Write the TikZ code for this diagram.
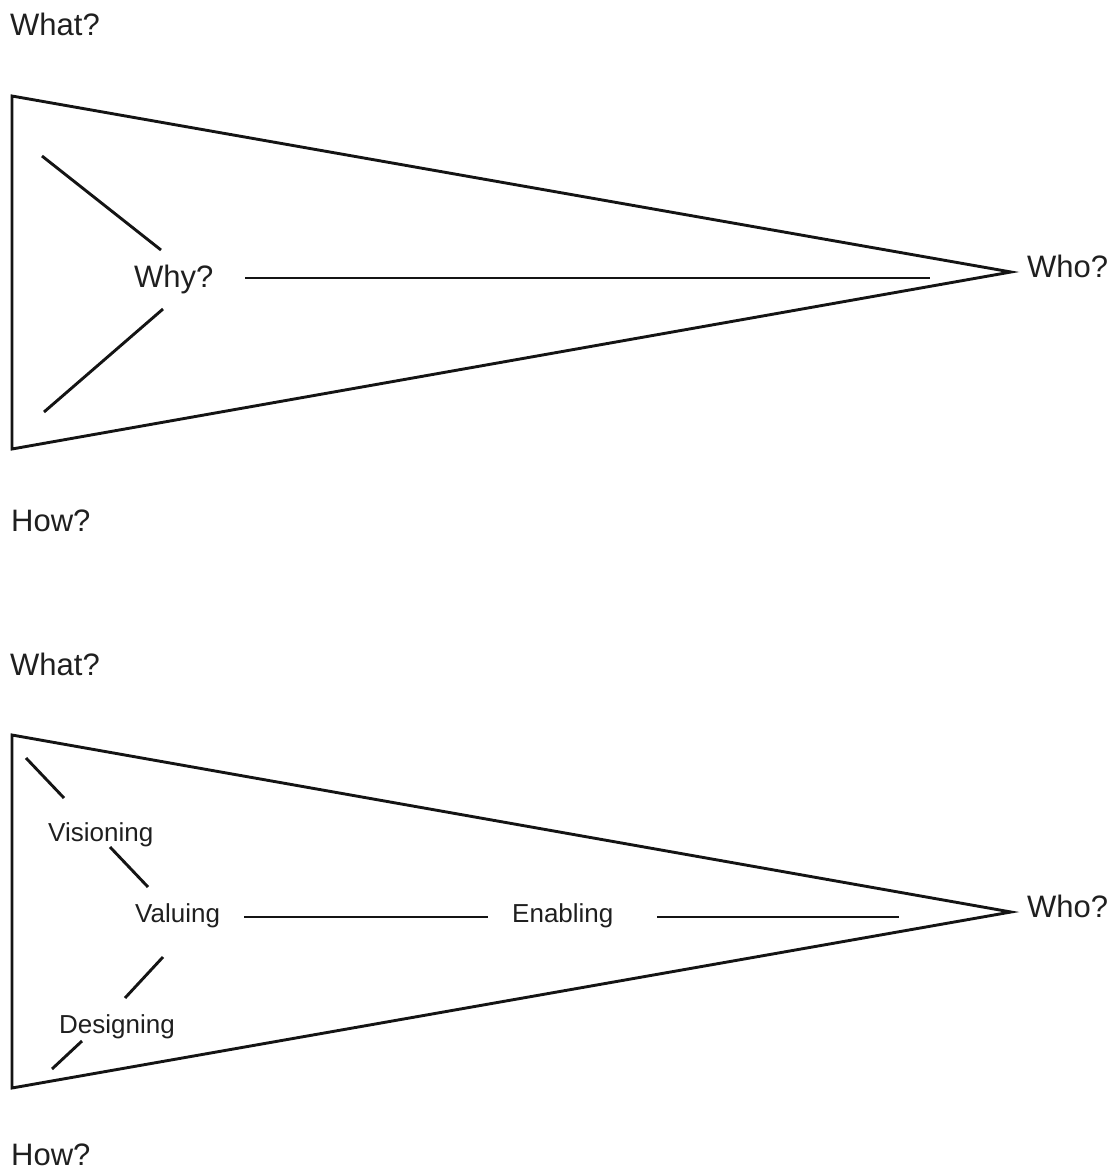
\documentclass[tikz,border=0pt]{standalone}
\usepackage{fontspec}
\setmainfont{Liberation Sans}
\begin{document}
\begin{tikzpicture}[x=1pt,y=-1pt,
  big/.style={font=\fontsize{31}{36}\selectfont, inner sep=0pt, anchor=base west, text=black!88},
  small/.style={font=\fontsize{26}{30}\selectfont, inner sep=0pt, anchor=base west, text=black!88},
  ln/.style={line width=2.9pt, draw=black!92},
  tri/.style={line width=2.9pt, draw=black!92, line join=miter}]
\useasboundingbox (0,0) rectangle (1117,1171);
% ---- top diagram ----
\node[big] (what1) at (10,35) {What?};
\node[big] (how1) at (11,531) {How?};
\node[big] (why) at (134,287) {Why?};
\node[big] (who1) at (1027,277) {Who?};
\coordinate (t1a) at (12,96);
\coordinate (t1b) at (1011,272);
\coordinate (t1c) at (12,449);
\draw[tri] (t1a) -- (t1b) -- (t1c) -- cycle;
\coordinate (u1s) at (42,156); \coordinate (u1e) at (161,250);
\coordinate (l1s) at (44,412); \coordinate (l1e) at (163,309);
\coordinate (h1s) at (245,278); \coordinate (h1e) at (930,278);
\draw[ln] (u1s) -- (u1e);
\draw[ln] (l1s) -- (l1e);
\draw[ln] (h1s) -- (h1e);
% ---- bottom diagram ----
\node[big] (what2) at (10,675) {What?};
\node[big] (how2) at (11,1165) {How?};
\node[big] (who2) at (1027,917) {Who?};
\node[small] (vis) at (48,841) {Visioning};
\node[small] (val) at (135,922) {Valuing};
\node[small] (des) at (59,1033) {Designing};
\node[small] (ena) at (512,922) {Enabling};
\coordinate (t2a) at (12,735);
\coordinate (t2b) at (1011,912);
\coordinate (t2c) at (12,1088);
\draw[tri] (t2a) -- (t2b) -- (t2c) -- cycle;
\coordinate (a1) at (26,758); \coordinate (a2) at (64,798);
\coordinate (b1) at (110,847); \coordinate (b2) at (148,887);
\coordinate (c1) at (163,957); \coordinate (c2) at (125,998);
\coordinate (d1) at (82,1041); \coordinate (d2) at (52,1069);
\coordinate (e1) at (244,917); \coordinate (e2) at (488,917);
\coordinate (f1) at (657,917); \coordinate (f2) at (899,917);
\draw[ln] (a1) -- (a2);
\draw[ln] (b1) -- (b2);
\draw[ln] (c1) -- (c2);
\draw[ln] (d1) -- (d2);
\draw[ln] (e1) -- (e2);
\draw[ln] (f1) -- (f2);
\end{tikzpicture}
\end{document}
